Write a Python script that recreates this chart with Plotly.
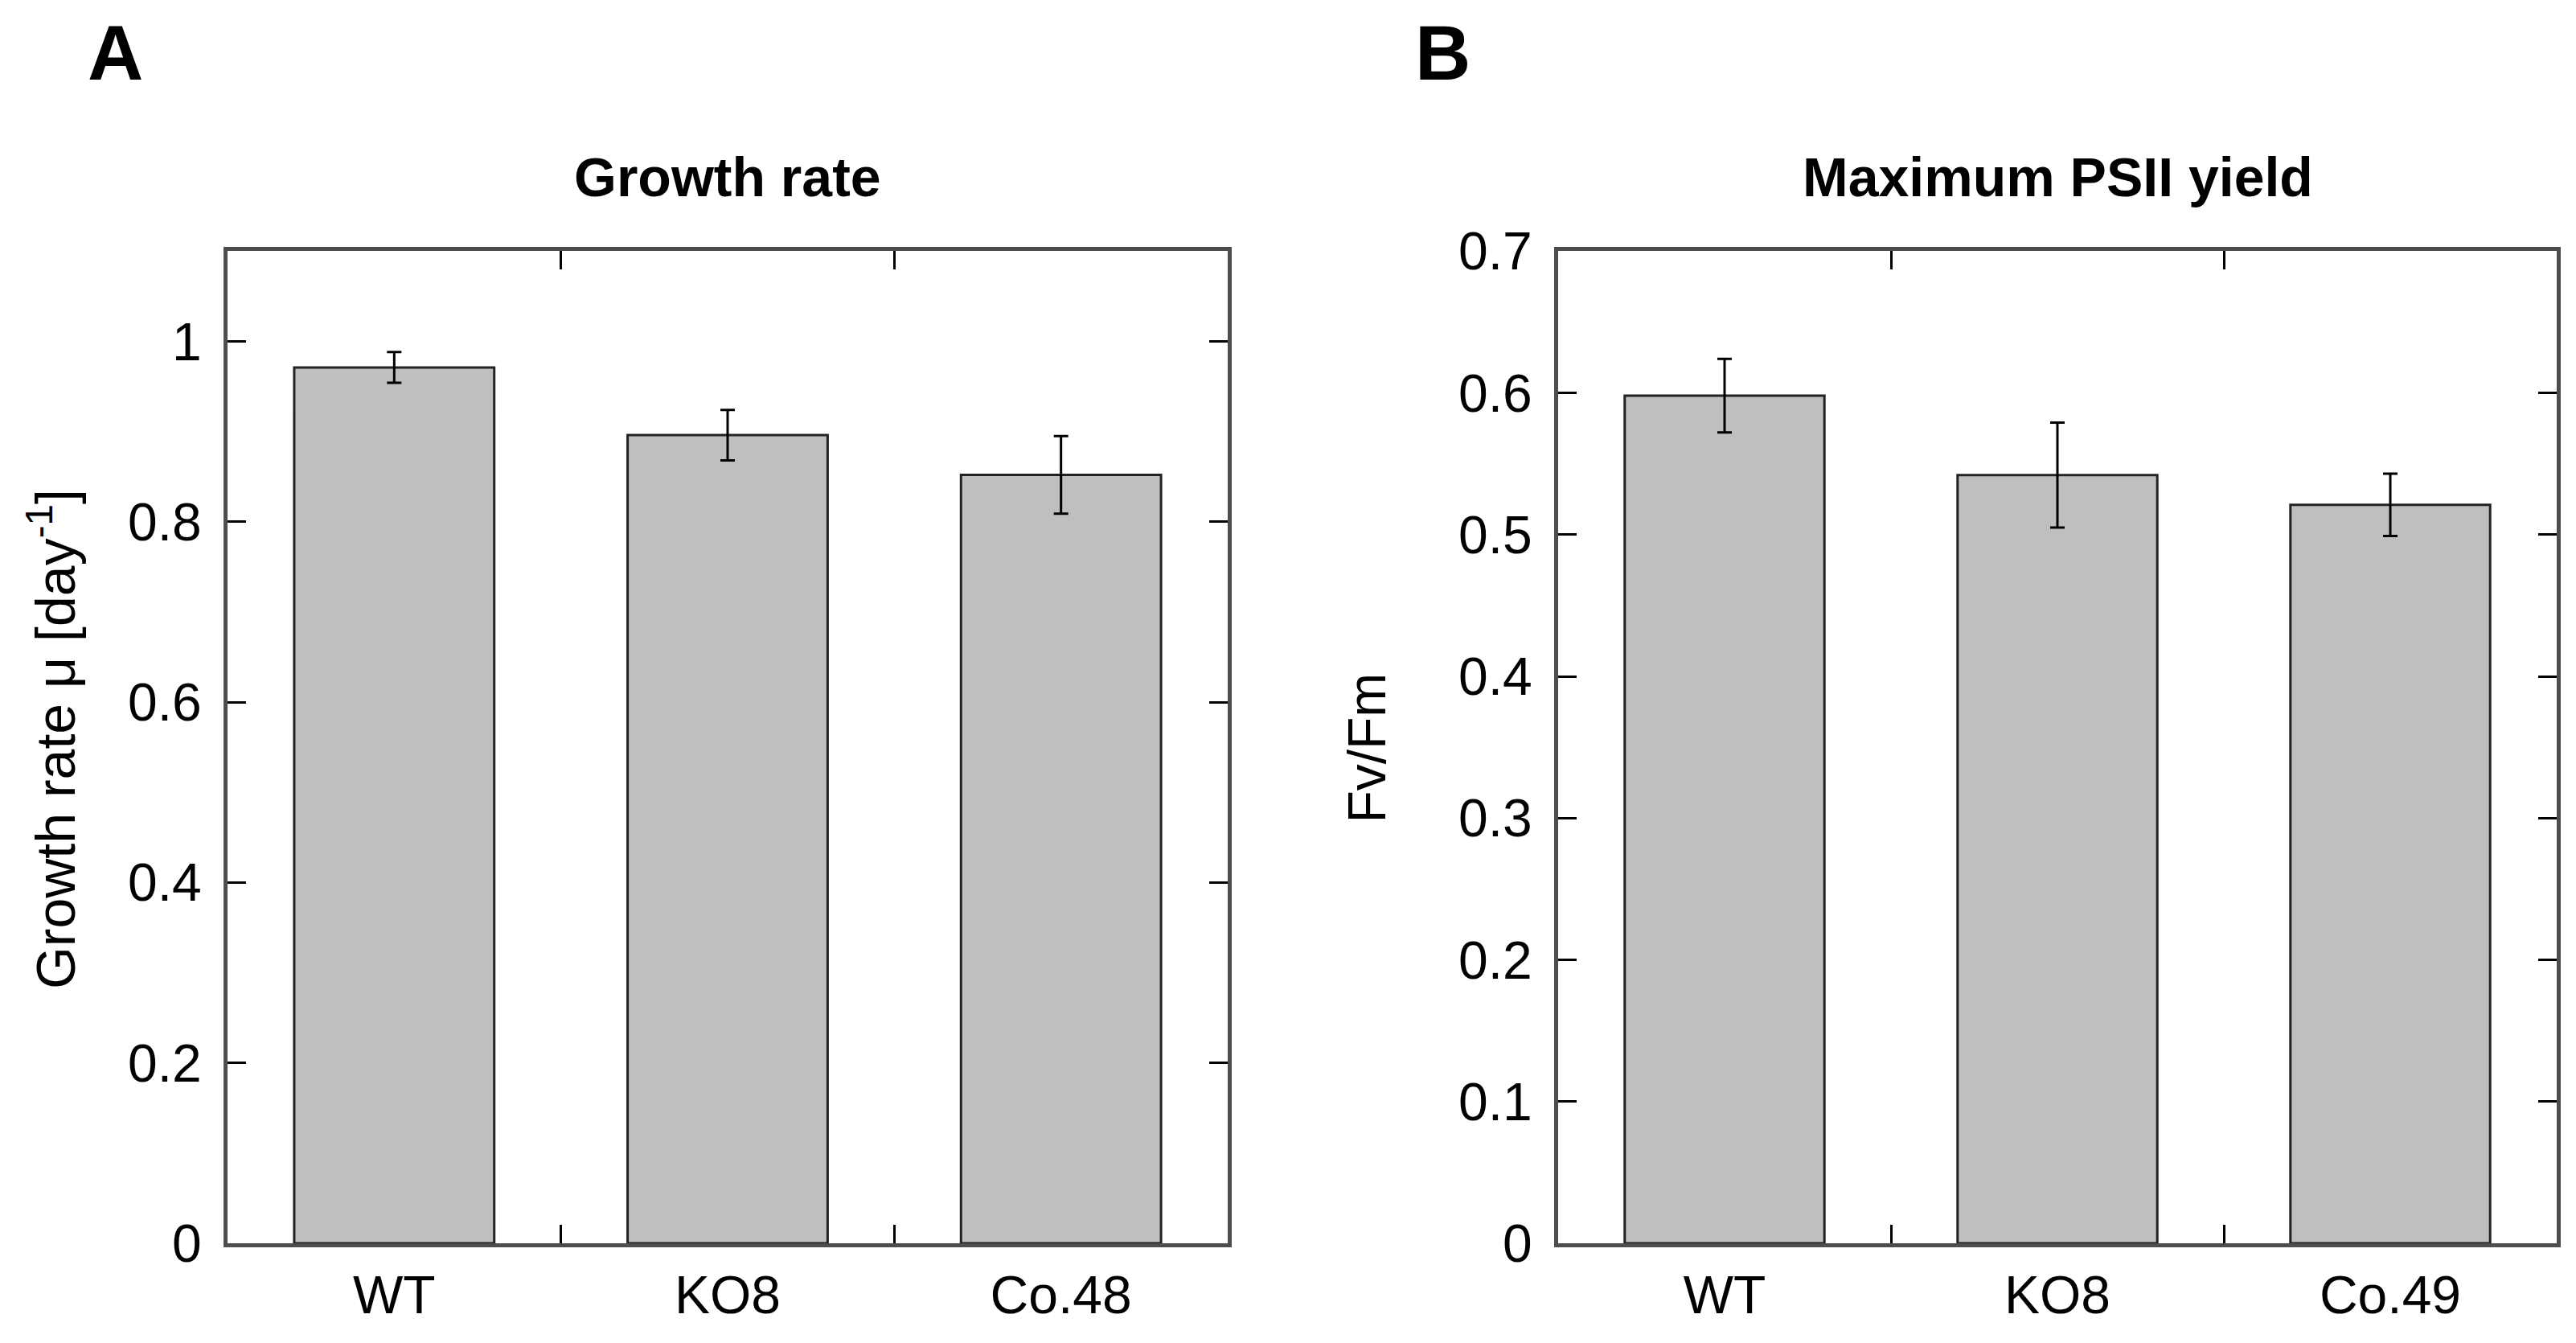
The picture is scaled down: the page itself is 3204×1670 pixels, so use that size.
import plotly.graph_objects as go
from plotly.subplots import make_subplots

# ---- data ----
categories_a = ["WT", "KO8", "Co.48"]
growth_rate = [0.971, 0.896, 0.852]
growth_err = [0.017, 0.028, 0.043]

categories_b = ["WT", "KO8", "Co.49"]
fvfm = [0.598, 0.542, 0.521]
fvfm_err = [0.026, 0.037, 0.022]

ticks_a = [0, 0.2, 0.4, 0.6, 0.8, 1]
ticks_b = [0, 0.1, 0.2, 0.3, 0.4, 0.5, 0.6, 0.7]

W, H = 3204, 1670
FONT = "Liberation Sans, Arial, sans-serif"

# vertical layout positions (px from top of the figure)
PLOT_TOP, PLOT_BOTTOM = 288, 1579
TITLE_Y, PANEL_Y = 191, 30

fig = make_subplots(rows=1, cols=2)

bar_style = dict(
    marker=dict(color="#bfbfbf", line=dict(color="#222222", width=3)),
    width=0.6,
    showlegend=False,
)

fig.add_trace(go.Bar(x=categories_a, y=growth_rate,
                     error_y=dict(type="data", array=growth_err, color="black",
                                  thickness=3, width=9),
                     **bar_style), row=1, col=1)
fig.add_trace(go.Bar(x=categories_b, y=fvfm,
                     error_y=dict(type="data", array=fvfm_err, color="black",
                                  thickness=3, width=9),
                     **bar_style), row=1, col=2)

axis_common = dict(
    showline=True, linecolor="#4d4d4d", linewidth=5, mirror="ticks",
    ticks="inside", ticklen=23, tickwidth=3, tickcolor="black",
    showgrid=False, zeroline=False,
    tickfont=dict(family=FONT, size=66, color="black"),
)

fig.update_xaxes(type="category", tickson="boundaries", range=[-0.5, 2.5],
                 ticklabelstandoff=3, **axis_common)
fig.update_yaxes(ticklabelstandoff=14, **axis_common)

ydom = [1 - PLOT_BOTTOM / H, 1 - PLOT_TOP / H]
fig.update_layout(
    width=W, height=H,
    margin=dict(l=0, r=0, t=0, b=0),
    paper_bgcolor="white", plot_bgcolor="white",
    font=dict(family=FONT, color="black"),
    xaxis=dict(domain=[283 / W, 1527 / W]),
    xaxis2=dict(domain=[1938 / W, 3180 / W]),
    yaxis=dict(domain=ydom, range=[0, 1.1], tickvals=ticks_a,
               ticktext=[f"{v:g}" for v in ticks_a]),
    yaxis2=dict(domain=ydom, range=[0, 0.7], tickvals=ticks_b,
                ticktext=[f"{v:g}" for v in ticks_b]),
)

annotations = [
    dict(text="<b>A</b>", x=143 / W, y=1 - PANEL_Y / H, font=dict(size=96)),
    dict(text="<b>B</b>", x=1794 / W, y=1 - PANEL_Y / H, font=dict(size=96)),
    dict(text="<b>Growth rate</b>", x=905 / W, y=1 - TITLE_Y / H, font=dict(size=68)),
    dict(text="<b>Maximum PSII yield</b>", x=2559 / W, y=1 - TITLE_Y / H, font=dict(size=68)),
    dict(text="Growth rate μ [day<sup>-1</sup>]", x=65 / W, y=1 - 923 / H,
         textangle=-90, font=dict(size=68)),
    dict(text="Fv/Fm", x=1700 / W, y=1 - 934 / H, textangle=-90, font=dict(size=66)),
]
for a in annotations:
    a.update(xref="paper", yref="paper", xanchor="center", yanchor="middle",
             showarrow=False)
    a["font"].update(family=FONT, color="black")
fig.update_layout(annotations=annotations)

post = (
    "document.documentElement.style.margin='0';"
    "document.body.style.margin='0';"
    "document.body.style.overflow='hidden';"
)

fig.write_html("out.html", config={"displayModeBar": False}, post_script=post)
